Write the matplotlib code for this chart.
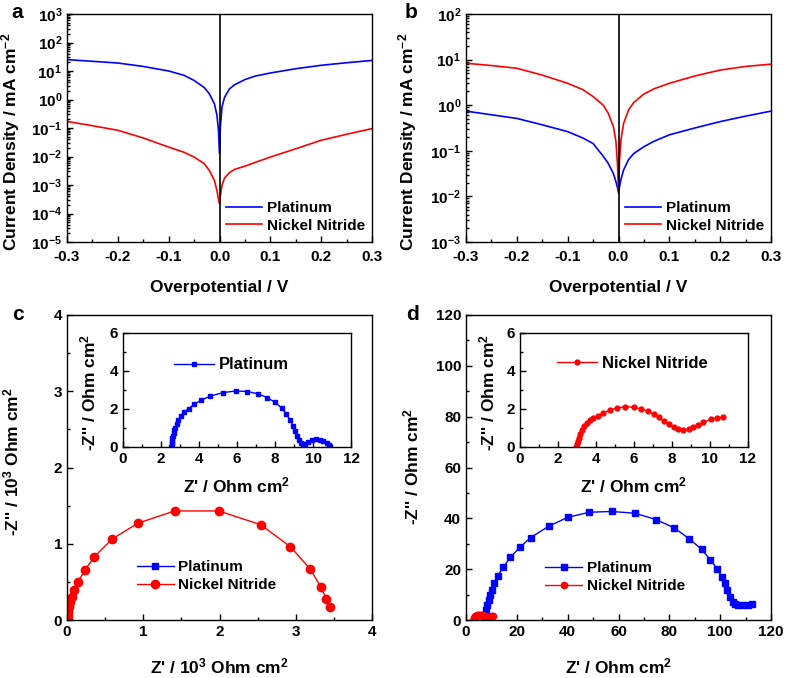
import matplotlib
matplotlib.use("Agg")
import matplotlib.pyplot as plt
import numpy as np
from matplotlib.ticker import MultipleLocator, LogLocator, NullFormatter

plt.rcParams['font.family'] = ['Liberation Sans', 'DejaVu Sans']
plt.rcParams['font.weight'] = 'bold'
plt.rcParams['axes.labelweight'] = 'bold'
plt.rcParams['mathtext.fontset'] = 'custom'
plt.rcParams['mathtext.rm'] = 'Liberation Sans:bold'
plt.rcParams['mathtext.it'] = 'Liberation Sans:bold'
plt.rcParams['mathtext.bf'] = 'Liberation Sans:bold'
plt.rcParams['mathtext.sf'] = 'Liberation Sans:bold'
plt.rcParams['mathtext.default'] = 'bf'

BLUE = '#0000ff'
RED = '#ff0000'
TFS = 11     # tick labels
LFS = 12.5   # axis labels
GFS = 11     # legend

# ---- panel a: Tafel-type curves (log10 of current density) ----
eta_a_pt = [-0.30, -0.25, -0.20, -0.15, -0.10, -0.07, -0.05, -0.03, -0.02, -0.01, -0.005, -0.002, 0.0,
            0.002, 0.005, 0.01, 0.02, 0.03, 0.05, 0.07, 0.10, 0.15, 0.20, 0.25, 0.30]
logj_a_pt = [1.40, 1.34, 1.28, 1.16, 1.00, 0.85, 0.67, 0.42, 0.20, -0.15, -0.55, -1.10, -1.90,
             -0.90, -0.25, 0.08, 0.38, 0.52, 0.70, 0.82, 0.93, 1.08, 1.20, 1.29, 1.37]
eta_a_ni = [-0.30, -0.25, -0.20, -0.15, -0.10, -0.07, -0.05, -0.03, -0.02, -0.01, -0.005, -0.002, 0.0,
            0.002, 0.005, 0.01, 0.02, 0.03, 0.05, 0.07, 0.10, 0.15, 0.20, 0.25, 0.30]
logj_a_ni = [-0.77, -0.92, -1.08, -1.35, -1.67, -1.85, -2.02, -2.25, -2.49, -2.84, -3.20, -3.50, -3.65,
             -3.35, -3.00, -2.75, -2.56, -2.45, -2.34, -2.21, -2.02, -1.73, -1.43, -1.22, -1.02]

# ---- panel b ----
eta_b_ni = [-0.30, -0.25, -0.20, -0.15, -0.10, -0.07, -0.05, -0.03, -0.02, -0.01, -0.005, -0.002, 0.0,
            0.002, 0.005, 0.01, 0.02, 0.03, 0.05, 0.07, 0.10, 0.15, 0.20, 0.25, 0.30]
logj_b_ni = [0.92, 0.87, 0.81, 0.66, 0.48, 0.34, 0.19, 0.0, -0.18, -0.47, -0.80, -1.30, -1.93,
             -1.20, -0.75, -0.40, -0.10, 0.06, 0.245, 0.36, 0.48, 0.64, 0.77, 0.85, 0.90]
eta_b_pt = [-0.30, -0.25, -0.20, -0.15, -0.10, -0.07, -0.05, -0.04, -0.03, -0.02, -0.01, -0.005, 0.0,
            0.005, 0.01, 0.02, 0.03, 0.05, 0.07, 0.10, 0.15, 0.20, 0.25, 0.30]
logj_b_pt = [-0.13, -0.21, -0.29, -0.43, -0.58, -0.72, -0.84, -0.98, -1.12, -1.28, -1.50, -1.68, -1.90,
             -1.62, -1.42, -1.19, -1.06, -0.91, -0.79, -0.65, -0.50, -0.36, -0.24, -0.13]

# ---- panel c: Nyquist, Nickel Nitride (10^3 Ohm cm2) ----
zre_c_ni = [0.005, 0.010, 0.018, 0.026, 0.040, 0.060, 0.090, 0.145, 0.23, 0.36, 0.59, 0.93,
            1.41, 1.99, 2.54, 2.93, 3.19, 3.33, 3.40, 3.45]
zim_c_ni = [0.02, 0.05, 0.11, 0.17, 0.24, 0.30, 0.39, 0.50, 0.65, 0.83, 1.06, 1.27,
            1.43, 1.43, 1.25, 0.96, 0.67, 0.43, 0.28, 0.17]

# ---- Platinum impedance (Ohm cm2), inset c ----
zre_pt_in = [2.55, 2.56, 2.57, 2.58, 2.60, 2.63, 2.66, 2.70, 2.75, 2.82, 2.92, 3.05, 3.22, 3.45,
             3.75, 4.10, 4.60, 5.25, 5.95, 6.55, 7.10, 7.60, 8.00, 8.35, 8.60, 8.80, 8.95, 9.07,
             9.17, 9.26, 9.35, 9.45, 9.58, 9.75, 9.95, 10.15, 10.35, 10.55, 10.72, 10.82]
zim_pt_in = [0.02, 0.12, 0.22, 0.33, 0.45, 0.58, 0.72, 0.87, 1.02, 1.20, 1.42, 1.62, 1.82, 2.02,
             2.25, 2.46, 2.68, 2.86, 2.95, 2.92, 2.80, 2.60, 2.35, 2.05, 1.72, 1.40, 1.12, 0.85,
             0.58, 0.35, 0.20, 0.15, 0.18, 0.28, 0.36, 0.40, 0.37, 0.30, 0.20, 0.10]

# ---- panel d: Platinum (Ohm cm2) ----
zre_d_pt = [7.2, 7.6, 8.0, 8.4, 8.9, 9.4, 10.1, 11.0, 12.5, 14.7, 17.4, 21.4, 25.4, 32.7, 40.1,
            48.5, 57.3, 66.5, 74.8, 82.0, 87.9, 92.7, 96.0, 98.9, 100.6, 101.9, 102.8, 103.9,
            104.9, 105.8, 107.1, 109.1, 111.1, 112.4]
zim_d_pt = [0.65, 2.0, 3.9, 5.9, 7.8, 9.8, 12.0, 14.4, 17.4, 20.8, 24.6, 28.8, 32.4, 37.0, 40.4,
            42.4, 42.7, 42.0, 39.5, 36.2, 31.9, 27.8, 23.8, 20.1, 17.0, 14.4, 11.8, 9.2,
            7.2, 6.3, 5.75, 5.75, 6.0, 6.3]

# ---- Nickel Nitride impedance (Ohm cm2), inset d ----
zre_ni_in = [2.97, 3.00, 3.04, 3.09, 3.16, 3.25, 3.37, 3.51, 3.66, 3.85, 4.08, 4.38, 4.73, 5.10,
             5.55, 5.99, 6.39, 6.72, 7.03, 7.30, 7.56, 7.82, 8.08, 8.34, 8.60, 8.87, 9.13, 9.39,
             9.65, 10.05, 10.35, 10.70]
zim_ni_in = [0.0, 0.14, 0.32, 0.50, 0.71, 0.90, 1.08, 1.26, 1.42, 1.52, 1.61, 1.79, 1.95, 2.05,
             2.12, 2.09, 2.00, 1.89, 1.73, 1.56, 1.36, 1.19, 1.03, 0.94, 0.90, 0.94, 1.03, 1.15,
             1.29, 1.47, 1.52, 1.58]


def style(ax, xpad=3.5):
    for s in ax.spines.values():
        s.set_linewidth(1.0)
    ax.tick_params(which='both', direction='in', top=False, right=False, labelsize=TFS, width=1.0)
    ax.tick_params(which='major', length=4)
    ax.tick_params(which='minor', length=2)
    ax.tick_params(axis='x', pad=xpad)


def leg(ax, x, y, size=GFS):
    return ax.legend(loc='center left', bbox_to_anchor=(x, y), frameon=False,
                     prop={'size': size, 'weight': 'bold'},
                     borderpad=0, borderaxespad=0, handlelength=2.4, handletextpad=0.3,
                     labelspacing=0.25)


fig = plt.figure(figsize=(7.87, 6.78), dpi=100)
W, H = 787, 678


def rect(l, t, r, b):
    return [l / W, 1 - b / H, (r - l) / W, (b - t) / H]


def tafel(ax, ylo, yhi):
    ax.axvline(0, color='black', lw=1.2)
    ax.set_yscale('log')
    ax.set_xlim(-0.3, 0.3)
    ax.set_ylim(10.0 ** ylo, 10.0 ** yhi)
    ax.set_yticks([10.0 ** k for k in range(ylo, yhi + 1)])
    ax.yaxis.set_minor_locator(LogLocator(base=10, subs=np.arange(2, 10), numticks=20))
    ax.yaxis.set_minor_formatter(NullFormatter())
    ax.xaxis.set_minor_locator(MultipleLocator(0.05))
    xt = np.round(np.arange(-0.3, 0.31, 0.1), 1)
    ax.set_xticks(xt)
    ax.set_xticklabels(['%.1f' % v for v in xt])
    style(ax, xpad=5.5)
    ax.set_xlabel('Overpotential / V', fontsize=LFS)
    ax.set_ylabel('Current Density / mA cm$^{-2}$', fontsize=LFS)
    ax.xaxis.set_label_coords(0.5, -0.165)


# panel a
axa = fig.add_axes(rect(67, 14, 372, 242))
axa.plot(eta_a_pt, 10 ** np.array(logj_a_pt), color=BLUE, lw=1.2, label='Platinum')
axa.plot(eta_a_ni, 10 ** np.array(logj_a_ni), color=RED, lw=1.2, label='Nickel Nitride')
tafel(axa, -5, 3)
axa.yaxis.set_label_coords(-0.147, 0.44)
leg(axa, 0.52, 0.11)

# panel b
axb = fig.add_axes(rect(466, 14, 771, 242))
axb.plot(eta_b_pt, 10 ** np.array(logj_b_pt), color=BLUE, lw=1.2, label='Platinum')
axb.plot(eta_b_ni, 10 ** np.array(logj_b_ni), color=RED, lw=1.2, label='Nickel Nitride')
tafel(axb, -3, 2)
axb.yaxis.set_label_coords(-0.155, 0.44)
leg(axb, 0.52, 0.11)


def nyq(ax, lim, major, minor):
    ax.set_xlim(0, lim[0])
    ax.set_ylim(0, lim[1])
    ax.xaxis.set_major_locator(MultipleLocator(major[0]))
    ax.xaxis.set_minor_locator(MultipleLocator(minor[0]))
    ax.yaxis.set_major_locator(MultipleLocator(major[1]))
    ax.yaxis.set_minor_locator(MultipleLocator(minor[1]))
    style(ax)


# panel c
axc = fig.add_axes(rect(67, 315, 372, 620))
axc.plot(np.array(zre_pt_in) / 1000, np.array(zim_pt_in) / 1000, '-s', color=BLUE, ms=4.5, lw=1.0,
         label='Platinum')
axc.plot(zre_c_ni, zim_c_ni, '-o', color=RED, ms=6, lw=1.0, label='Nickel Nitride')
nyq(axc, (4, 4), (1, 1), (0.5, 0.5))
axc.set_xlabel("Z' / 10$^{3}$ Ohm cm$^{2}$", fontsize=LFS)
axc.set_ylabel("-Z'' / 10$^{3}$ Ohm cm$^{2}$", fontsize=LFS)
axc.xaxis.set_label_coords(0.5, -0.12)
axc.yaxis.set_label_coords(-0.149, 0.52)
leg(axc, 0.23, 0.144)

# inset c
axci = fig.add_axes(rect(123, 333, 351, 447))
axci.plot(zre_pt_in, zim_pt_in, '-s', color=BLUE, ms=3.2, lw=1.0, label='Platinum')
nyq(axci, (12, 6), (2, 2), (1, 1))
axci.set_xlabel("Z' / Ohm cm$^{2}$", fontsize=LFS)
axci.set_ylabel("-Z'' / Ohm cm$^{2}$", fontsize=LFS)
axci.xaxis.set_label_coords(0.5, -0.25)
axci.yaxis.set_label_coords(-0.11, 0.48)
leg(axci, 0.224, 0.72, size=12)

# panel d
axd = fig.add_axes(rect(466, 315, 771, 620))
axd.plot(zre_d_pt, zim_d_pt, '-s', color=BLUE, ms=4.5, lw=1.0, label='Platinum')
axd.plot(zre_ni_in, zim_ni_in, '-o', color=RED, ms=4.5, lw=1.0, label='Nickel Nitride')
nyq(axd, (120, 120), (20, 20), (10, 10))
axd.set_xlabel("Z' / Ohm cm$^{2}$", fontsize=LFS)
axd.set_ylabel("-Z'' / Ohm cm$^{2}$", fontsize=LFS)
axd.xaxis.set_label_coords(0.5, -0.12)
axd.yaxis.set_label_coords(-0.145, 0.505)
leg(axd, 0.26, 0.141)

# inset d
axdi = fig.add_axes(rect(520, 333, 748, 447))
axdi.plot(zre_ni_in, zim_ni_in, '-o', color=RED, ms=3.5, lw=1.0, label='Nickel Nitride')
nyq(axdi, (12, 6), (2, 2), (1, 1))
axdi.set_xlabel("Z' / Ohm cm$^{2}$", fontsize=LFS)
axdi.set_ylabel("-Z'' / Ohm cm$^{2}$", fontsize=LFS)
axdi.xaxis.set_label_coords(0.5, -0.25)
axdi.yaxis.set_label_coords(-0.10, 0.48)
leg(axdi, 0.162, 0.73, size=12)

# panel letters
for lab, x, y in [('a', 17, 12), ('b', 411, 12), ('c', 18, 314), ('d', 412, 314)]:
    fig.text(x / W, 1 - y / H, lab, fontsize=15, fontweight='bold', ha='center', va='center')

fig.savefig('out.png', dpi=100)
